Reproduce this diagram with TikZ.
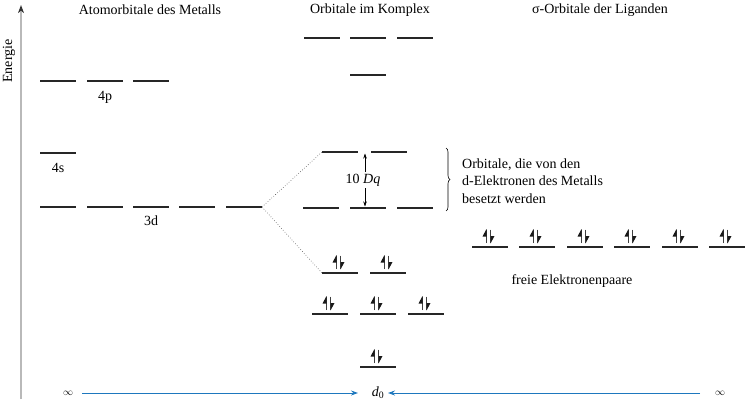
\documentclass[tikz,border=0pt]{standalone}
\usepackage{fontspec}
\setmainfont{Liberation Serif}
\usetikzlibrary{arrows.meta,decorations.pathreplacing}
\definecolor{axisgray}{RGB}{185,185,185}
\definecolor{arrowblue}{RGB}{30,120,190}
\tikzset{
  orb/.style={line width=1.7pt, draw=black!85},
  lbl/.style={font=\fontsize{14}{17.5}\selectfont, inner sep=0pt},
  conn/.style={dotted, line width=0.6pt, draw=black!70},
  spin/.style={line width=0.8pt, draw=black!75},
  spinhead/.style={fill=black!90},
  limit/.style={draw=arrowblue, line width=0.9pt, -{Stealth[length=7pt,width=5pt]}},
}
\newcommand\orbital[3]{%
  \coordinate (#1-l) at (#2,#3);
  \coordinate (#1-r) at (#2+36,#3);
  \coordinate (#1-c) at (#2+18,#3);
  \draw[orb] (#1-l) -- (#1-r);}
\newcommand\epair[1]{%
  \draw[spin] ([shift={(-3.5,-4)}]#1) -- ([shift={(-3.5,-17)}]#1);
  \fill[spinhead] ([shift={(-3.5,-18)}]#1) -- ([shift={(-3.5,-10.5)}]#1) -- ([shift={(-7.5,-10.5)}]#1) -- cycle;
  \draw[spin] ([shift={(0.5,-17.5)}]#1) -- ([shift={(0.5,-4)}]#1);
  \fill[spinhead] ([shift={(0.5,-3.5)}]#1) -- ([shift={(0.5,-11)}]#1) -- ([shift={(4.5,-11)}]#1) -- cycle;}
\begin{document}
\begin{tikzpicture}[x=1pt,y=-1pt]
\useasboundingbox (0,0) rectangle (746,402);
% energy axis
\coordinate (ax0) at (21,399);
\coordinate (ax1) at (21,5);
\draw[axisgray, line width=1.6pt] (ax0) -- (21,12);
\fill[black!80] (ax1) -- (24,13) -- (21,11) -- (18,13) -- cycle;
\node[lbl, rotate=90] (energie) at (9,61) {Energie};
% titles
\node[lbl] (t1) at (150,10) {Atomorbitale des Metalls};
\node[lbl] (t2) at (370,10) {Orbitale im Komplex};
\node[lbl] (t3) at (600,10) {σ-Orbitale der Liganden};
% metal 4p
\orbital{p1}{40}{81}\orbital{p2}{87}{81}\orbital{p3}{133}{81}
\node[lbl] (l4p) at (105,97) {4p};
% 4s
\orbital{s1}{40}{153}
\node[lbl] (l4s) at (58,168) {4s};
% 3d
\orbital{d1}{40}{207}\orbital{d2}{87}{207}\orbital{d3}{133}{207}\orbital{d4}{179}{207}\orbital{d5}{226}{207}
\node[lbl] (l3d) at (151,221) {3d};
% complex antibonding top
\orbital{a1}{304}{38}\orbital{a2}{350}{38}\orbital{a3}{397}{38}
\orbital{a4}{350}{75}
% eg*
\orbital{e1}{322}{152}\orbital{e2}{371}{152}
% t2g
\orbital{t1}{303}{208}\orbital{t2}{350}{208}\orbital{t3}{397}{208}
% bonding
\orbital{b1}{322}{273}\orbital{b2}{370}{273}
\orbital{b3}{312}{314}\orbital{b4}{360}{314}\orbital{b5}{408}{314}
\orbital{b6}{360}{367}
\epair{b1-c}\epair{b2-c}\epair{b3-c}\epair{b4-c}\epair{b5-c}\epair{b6-c}
% ligand lone pairs
\orbital{g1}{472}{247}\orbital{g2}{519}{247}\orbital{g3}{567}{247}
\orbital{g4}{614}{247}\orbital{g5}{662}{247}\orbital{g6}{709}{247}
\epair{g1-c}\epair{g2-c}\epair{g3-c}\epair{g4-c}\epair{g5-c}\epair{g6-c}
\node[lbl] (free) at (572,281) {freie Elektronenpaare};
% dotted correlation lines
\draw[conn] (d5-r) -- (e1-l);
\draw[conn] (d5-r) -- (b1-l);
% 10 Dq
\coordinate (dq0) at (365,153.5);
\coordinate (dq1) at (365,206.5);
\draw[line width=0.6pt, {Stealth[length=5pt,width=3.5pt]}-{Stealth[length=5pt,width=3.5pt]}] (dq0) -- (dq1);
\node[lbl, fill=white, inner sep=1.5pt] (dq) at (363,180) {10 \textit{Dq}};
% brace
\coordinate (br0) at (446,148);
\coordinate (br1) at (446,211);
\draw[line width=0.6pt, decorate, decoration={brace, amplitude=4pt}] (br0) -- (br1);
\node[lbl, anchor=west, align=left] (occ) at (462,181) {Orbitale, die von den\\d-Elektronen des Metalls\\besetzt werden};
% bottom limits
\node[lbl, font=\fontsize{10}{12}\selectfont] (inf1) at (68,393) {$\infty$};
\node[lbl] (d0) at (378,393) {\textit{d}\textsubscript{0}};
\node[lbl, font=\fontsize{10}{12}\selectfont] (inf2) at (720,393) {$\infty$};
\draw[limit] (82,393) -- (358,393);
\draw[limit] (700,393) -- (388,393);
\end{tikzpicture}
\end{document}
